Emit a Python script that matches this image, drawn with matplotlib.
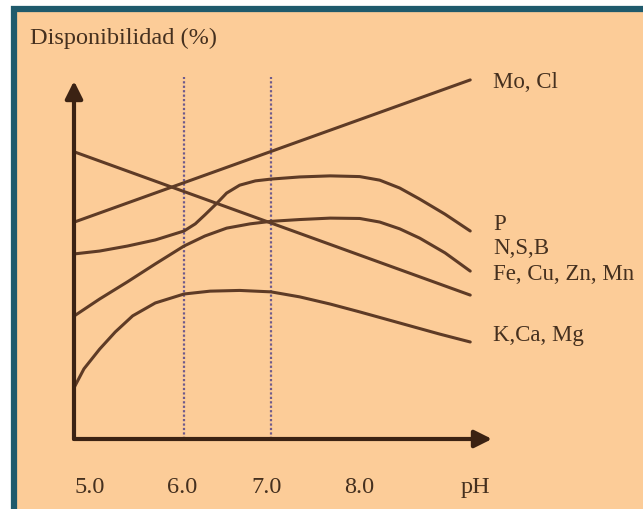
import matplotlib.pyplot as plt
from matplotlib.patches import Rectangle

W, H = 643, 510

# pH positions (x) and availability (0-100)
ph_mo = [4.74, 9.29]
av_mo = [60.6, 100.3]

ph_fe = [4.74, 9.29]
av_fe = [80.2, 40.2]

ph_p = [4.74, 5.03, 5.35, 5.67, 6.0, 6.13, 6.24, 6.38, 6.49, 6.64, 6.82, 7.0,
        7.33, 7.68, 8.02, 8.25, 8.48, 8.71, 9.0, 9.29]
av_p = [51.7, 52.5, 53.9, 55.6, 58.1, 60.1, 62.6, 65.9, 68.7, 70.9, 72.1, 72.6,
        73.2, 73.5, 73.3, 72.3, 70.1, 67.0, 62.8, 58.1]

ph_nsb = [4.74, 5.03, 5.35, 5.67, 6.0, 6.24, 6.49, 6.76, 7.0, 7.33, 7.68, 8.02,
          8.25, 8.48, 8.71, 9.0, 9.29]
av_nsb = [34.4, 39.1, 43.9, 48.9, 53.9, 56.7, 58.9, 60.1, 60.8, 61.3, 61.7, 61.6,
          60.6, 58.7, 56.1, 52.0, 46.9]

ph_k = [4.74, 4.85, 5.03, 5.21, 5.41, 5.67, 6.0, 6.30, 6.64, 7.0, 7.33, 7.68,
        8.02, 8.48, 8.94, 9.29]
av_k = [14.5, 19.6, 25.1, 29.9, 34.4, 38.0, 40.5, 41.3, 41.5, 41.1, 39.7, 37.7,
        35.5, 32.4, 29.3, 27.1]

ph_marks = [6.0, 7.0]
tick_labels = ["5.0", "6.0", "7.0", "8.0", "pH"]
series_labels = ["Mo, Cl", "P", "N,S,B", "Fe, Cu, Zn, Mn", "K,Ca, Mg"]

bg = "#fccc98"
line_c = "#5e3b26"
axis_c = "#3b2213"
text_c = "#45301f"


def fig_xy(x, y):
    # pixel position -> figure fraction
    return x / W, 1 - y / H


fig = plt.figure(figsize=(W / 100, H / 100), dpi=100)
fig.patch.set_facecolor("white")

# panel background and teal frame (only top/left visible)
fig.patches.append(Rectangle(fig_xy(14, 560), 700 / W, 550 / H, transform=fig.transFigure,
                             facecolor=bg, edgecolor="#1f5a6c", linewidth=4.5, zorder=-5))

ax = fig.add_axes([0, 0, 1, 1])
ax.set_xlim(6 - 184 / 87, 6 + (W - 184) / 87)
ax.set_ylim((440 - H) / 3.58, 440 / 3.58)
ax.axis("off")
ax.patch.set_alpha(0)

# dotted reference lines at pH 6 and 7
for p in ph_marks:
    ax.plot([p, p], [0, 101], color="#6e5a8c", lw=1.6, ls=(0, (1, 1)), zorder=2)

for xs, ys in [(ph_mo, av_mo), (ph_fe, av_fe), (ph_p, av_p), (ph_nsb, av_nsb), (ph_k, av_k)]:
    ax.plot(xs, ys, color=line_c, lw=2.2, solid_capstyle="round",
            solid_joinstyle="round", zorder=3)

# axes with arrows
x0 = 6 - 110 / 87
ax.annotate("", xy=(6 + 308 / 87, 0), xytext=(x0, 0),
            arrowprops=dict(arrowstyle="-|>", color=axis_c, lw=3, mutation_scale=26,
                            shrinkA=0, shrinkB=0), zorder=4)
ax.annotate("", xy=(x0, 100), xytext=(x0, 0),
            arrowprops=dict(arrowstyle="-|>", color=axis_c, lw=3, mutation_scale=26,
                            shrinkA=0, shrinkB=0), zorder=4)

font = dict(family="Liberation Serif", color=text_c)

fig.text(*fig_xy(30, 38), "Disponibilidad (%)", va="center", ha="left", fontsize=17.5, **font)

for lab, px in zip(tick_labels, [90, 182, 267, 359, 475]):
    fig.text(*fig_xy(px, 488), lab, va="center", ha="center", fontsize=17.5, **font)

for lab, py in zip(series_labels, [82, 225, 249, 275, 335]):
    fig.text(*fig_xy(493, py), lab, va="center", ha="left", fontsize=16.5, **font)

fig.savefig("out.png", dpi=100)
